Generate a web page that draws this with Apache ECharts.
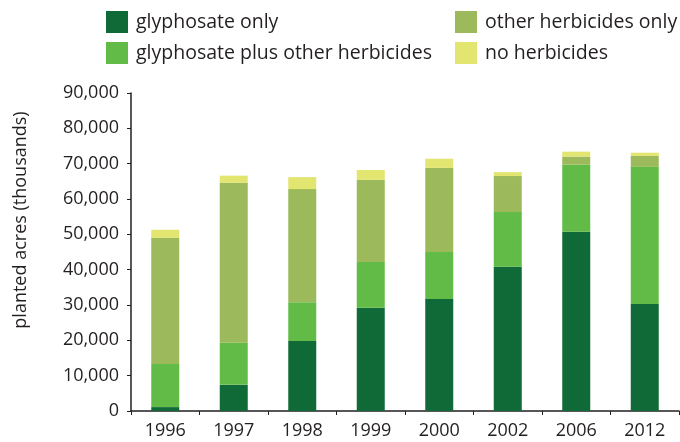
<!DOCTYPE html>
<html><head><meta charset="utf-8">
<script src="https://cdn.jsdelivr.net/npm/echarts@6/dist/echarts.min.js"></script>
<style>html,body{margin:0;padding:0;background:#fff}#c{width:680px;height:442px}</style>
</head><body><div id="c"></div>
<script>
const years = ['1996','1997','1998','1999','2000','2002','2006','2012'];
const glyphosateOnly = [1100, 7400, 19800, 29200, 31700, 40800, 50700, 30300];
const glyphosatePlus = [12200, 11900, 11000, 13000, 13300, 15500, 19000, 38800];
const otherOnly = [35700, 45300, 32000, 23200, 23800, 10200, 2300, 3100];
const noHerbicides = [2300, 2000, 3400, 2800, 2600, 1100, 1400, 900];
const yTicksMax = 90000;
const seriesNames = ['glyphosate only','glyphosate plus other herbicides','other herbicides only','no herbicides'];
const colors = ['#0f6a37','#61bb46','#9cba5b','#e2e570'];
const txt = '#231f20';
const font = 'Open Sans';
const chart = echarts.init(document.getElementById('c'));
const mkLegend = (name, left, top) => ({
  data: [name], left: left, top: top, itemWidth: 22, itemHeight: 22, itemGap: 0, padding: 0,
  icon: 'rect', selectedMode: false,
  textStyle: {color: txt, fontSize: 19.5, fontFamily: font, padding: [0,0,0,3]}
});
chart.setOption({
  animation: false,
  color: colors,
  legend: [
    mkLegend(seriesNames[0], 106, 11),
    mkLegend(seriesNames[1], 106, 42),
    mkLegend(seriesNames[2], 455, 11),
    mkLegend(seriesNames[3], 455, 42)
  ],
  grid: {left: 131, right: 1, top: 93, bottom: 31},
  xAxis: {
    type: 'category', data: years,
    axisLine: {lineStyle: {color: txt, width: 1.5}},
    axisTick: {show: true, length: 4, lineStyle: {color: txt}},
    axisLabel: {color: txt, fontSize: 18, fontFamily: font, margin: 11}
  },
  yAxis: {
    type: 'value', min: 0, max: yTicksMax, interval: 10000,
    name: 'planted acres (thousands)', nameLocation: 'middle', nameGap: 101,
    nameTextStyle: {color: txt, fontSize: 18, fontFamily: font, padding: [0,0,0,64]},
    axisLine: {show: true, lineStyle: {color: txt, width: 1.5}},
    axisTick: {show: true, length: 4, lineStyle: {color: txt}},
    splitLine: {show: false},
    axisLabel: {color: txt, fontSize: 18, fontFamily: font, margin: 12,
      formatter: v => v.toLocaleString('en-US')}
  },
  series: [glyphosateOnly, glyphosatePlus, otherOnly, noHerbicides].map((d, i) => ({
    name: seriesNames[i], type: 'bar', stack: 'a', data: d, barWidth: 28
  }))
});
</script></body></html>
